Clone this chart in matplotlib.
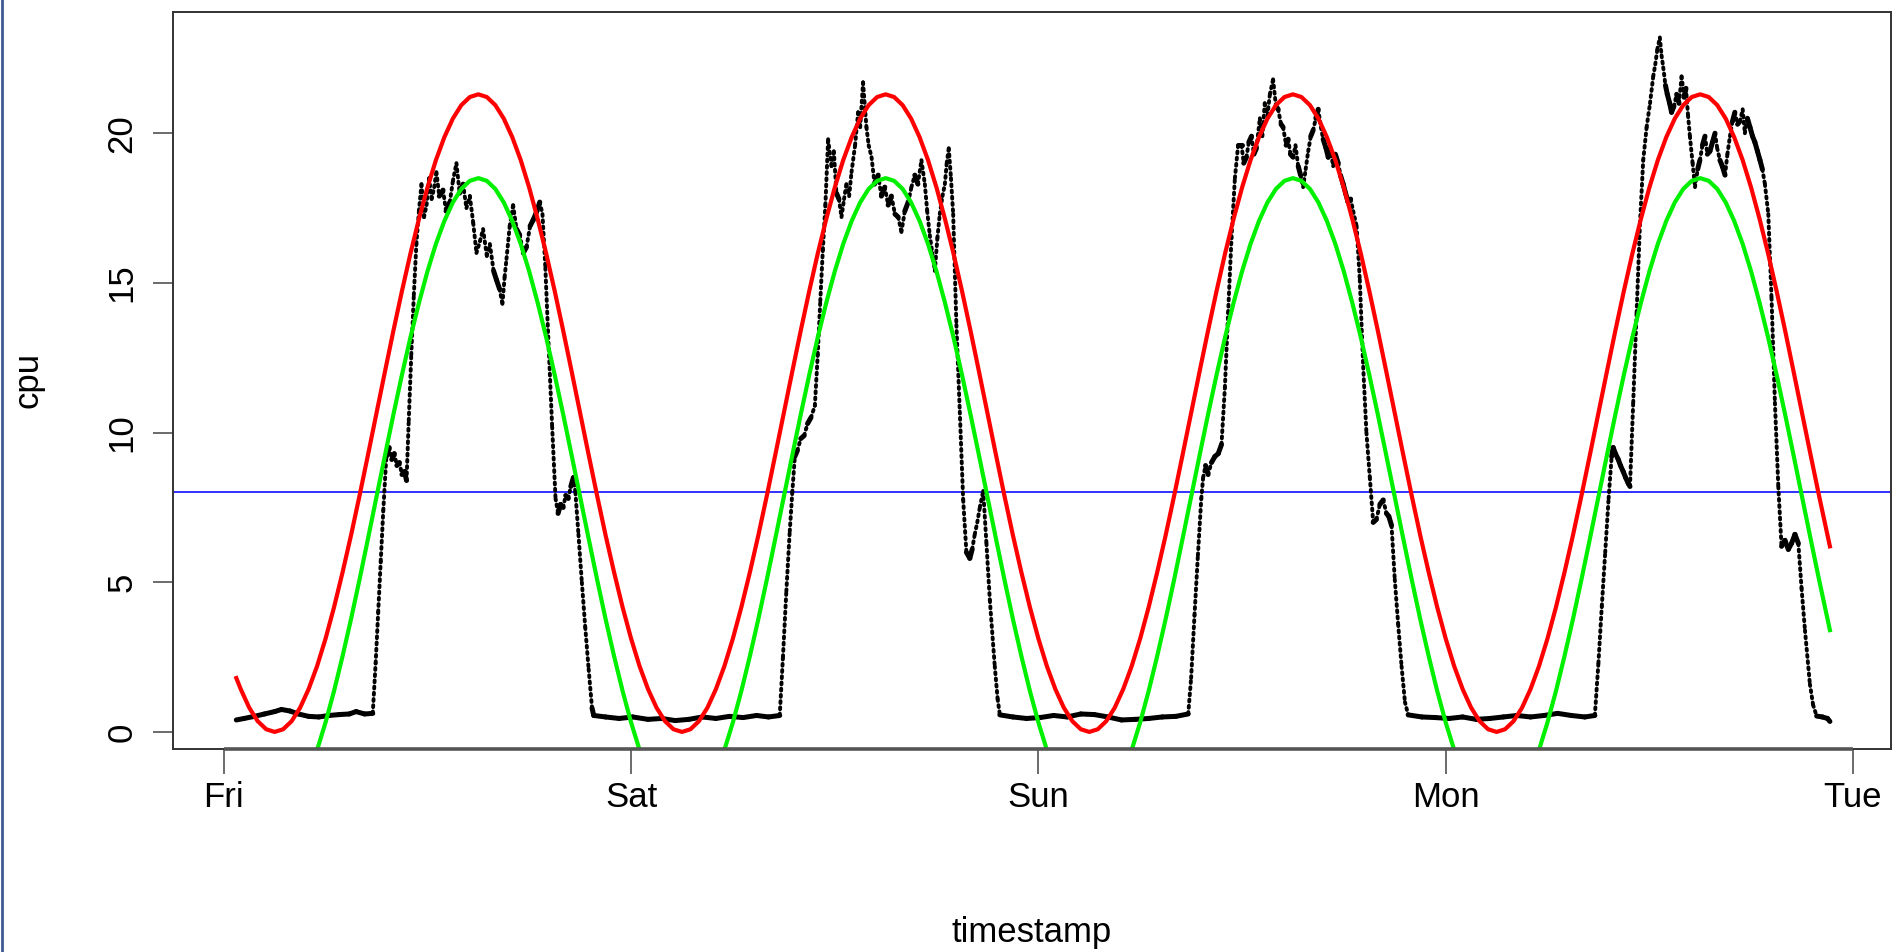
import matplotlib
matplotlib.use("Agg")
from matplotlib import pyplot as plt
from matplotlib import font_manager
from matplotlib.lines import Line2D
from matplotlib.collections import LineCollection
import numpy as np

# day names at the x ticks (hours from Fri 00:00)
day_ticks = [0, 24, 48, 72, 96]
day_labels = ["Fri", "Sat", "Sun", "Mon", "Tue"]
cpu_ticks = [0, 5, 10, 15, 20]
threshold = 8.0

# fitted daily curves, one value per half hour of the day (0:00 .. 23:30)
red_day = [3.12, 2.20, 1.43, 0.81, 0.36, 0.09, 0.00, 0.09, 0.36, 0.81, 1.43, 2.20,
           3.12, 4.17, 5.33, 6.57, 7.89, 9.26, 10.65, 12.04, 13.41, 14.73, 15.98, 17.13,
           18.18, 19.10, 19.87, 20.49, 20.94, 21.21, 21.30, 21.21, 20.94, 20.49, 19.87, 19.10,
           18.18, 17.13, 15.98, 14.73, 13.41, 12.04, 10.65, 9.26, 7.89, 6.57, 5.33, 4.17]
green_day = [0.32, -0.60, -1.37, -1.99, -2.44, -2.71, -2.80, -2.71, -2.44, -1.99, -1.37, -0.60,
             0.32, 1.37, 2.53, 3.77, 5.09, 6.46, 7.85, 9.24, 10.61, 11.93, 13.18, 14.33,
             15.38, 16.30, 17.07, 17.69, 18.14, 18.41, 18.50, 18.41, 18.14, 17.69, 17.07, 16.30,
             15.38, 14.33, 13.18, 11.93, 10.61, 9.24, 7.85, 6.46, 5.09, 3.77, 2.53, 1.37]
fit_start, fit_end = 0.74, 94.64
red_ends = (1.8, 6.2)
green_ends = (-0.97, 3.4)

# cpu readings (hour, value)
cpu_points = [
    (0.74, 0.40), (1.2, 0.45), (1.8, 0.52), (2.4, 0.60), (3.0, 0.68), (3.4, 0.75), (3.9, 0.70),
    (4.4, 0.60), (5.0, 0.52), (5.6, 0.50), (6.2, 0.55), (6.8, 0.58), (7.4, 0.60), (7.8, 0.68),
    (8.3, 0.60), (8.78, 0.62),
    (8.95, 2.3), (9.1, 4.0), (9.25, 5.7), (9.4, 7.4), (9.58, 9.2),
    (9.75, 9.5), (9.9, 9.1), (10.05, 9.3), (10.2, 8.9), (10.35, 9.0), (10.5, 8.6), (10.65, 8.7),
    (10.77, 8.4),
    (10.9, 10.4), (11.05, 12.6), (11.2, 14.6), (11.35, 16.3), (11.5, 17.4),
    (11.65, 18.3), (11.8, 17.2), (11.95, 17.6), (12.1, 18.5), (12.25, 17.8), (12.4, 18.2),
    (12.53, 18.7), (12.7, 17.9), (12.92, 18.1), (13.1, 17.4), (13.32, 17.7), (13.5, 18.4),
    (13.71, 19.0), (13.9, 18.0), (14.1, 18.3), (14.3, 17.5), (14.5, 17.9), (14.7, 17.0),
    (14.89, 16.0), (15.1, 16.4), (15.28, 16.8), (15.5, 15.9), (15.68, 16.3), (15.9, 15.4),
    (16.07, 15.1), (16.25, 14.8), (16.42, 14.3), (16.55, 15.2), (16.66, 15.8), (16.85, 16.9),
    (17.05, 17.6), (17.25, 16.8), (17.44, 16.6), (17.65, 16.0), (17.84, 16.2), (18.05, 16.9),
    (18.23, 17.1), (18.45, 17.4), (18.62, 17.7), (18.78, 17.3),
    (18.95, 15.5), (19.15, 12.8), (19.35, 10.2), (19.55, 7.8),
    (19.7, 7.3), (19.85, 7.6), (20.0, 7.5), (20.15, 7.9), (20.3, 7.8), (20.45, 8.2), (20.6, 8.5),
    (20.72, 8.0),
    (20.9, 6.6), (21.1, 5.0), (21.3, 3.5), (21.5, 2.1), (21.7, 0.8), (21.8, 0.55),
    (22.5, 0.50), (23.3, 0.45), (24.1, 0.50), (25.0, 0.42), (25.8, 0.45), (26.6, 0.38),
    (27.4, 0.42), (28.2, 0.50), (29.0, 0.45), (29.8, 0.52), (30.6, 0.48), (31.4, 0.55),
    (32.1, 0.50), (32.76, 0.55),
    (32.95, 2.5), (33.15, 4.7), (33.35, 6.7), (33.5, 8.0), (33.65, 9.2),
    (33.8, 9.4), (34.0, 9.8), (34.2, 9.9), (34.4, 10.3), (34.6, 10.5), (34.83, 10.9),
    (35.0, 12.6), (35.15, 14.4), (35.3, 16.1), (35.45, 17.6),
    (35.61, 19.8), (35.81, 18.9), (35.95, 19.4), (36.1, 18.0), (36.25, 17.8), (36.4, 17.2),
    (36.55, 17.8), (36.69, 18.3), (36.85, 17.9), (36.99, 18.7), (37.2, 19.6), (37.38, 20.7),
    (37.5, 20.2), (37.67, 21.7), (37.87, 20.2), (38.0, 19.6), (38.17, 19.2), (38.35, 18.3),
    (38.56, 18.6), (38.75, 17.9), (38.95, 18.2), (39.15, 17.6), (39.34, 17.9), (39.55, 17.3),
    (39.74, 17.2), (39.93, 16.7), (40.13, 17.4), (40.33, 17.7), (40.52, 18.2), (40.72, 18.6),
    (40.9, 18.3), (41.11, 19.1), (41.31, 18.3), (41.45, 17.4), (41.6, 16.6), (41.75, 16.0),
    (41.9, 15.4), (42.05, 16.5), (42.19, 17.3), (42.35, 17.9), (42.49, 18.3), (42.6, 19.0),
    (42.72, 19.5), (42.85, 18.5), (42.98, 17.3),
    (43.17, 13.6), (43.37, 10.7), (43.57, 7.75), (43.76, 6.0),
    (43.96, 5.8), (44.1, 6.1), (44.25, 6.6), (44.4, 7.0), (44.55, 7.5), (44.75, 8.05),
    (44.94, 6.3), (45.14, 4.4), (45.43, 2.2), (45.6, 1.1), (45.73, 0.57),
    (46.5, 0.50), (47.3, 0.45), (48.1, 0.48), (48.9, 0.55), (49.7, 0.50), (50.5, 0.60),
    (51.3, 0.58), (52.1, 0.50), (52.9, 0.40), (53.7, 0.42), (54.5, 0.45), (55.3, 0.50),
    (56.1, 0.52), (56.83, 0.60),
    (57.0, 1.8), (57.2, 3.9), (57.4, 5.9), (57.6, 7.8), (57.71, 8.5),
    (57.85, 8.9), (58.0, 8.6), (58.2, 9.0), (58.4, 9.2), (58.6, 9.3), (58.79, 9.6),
    (58.99, 11.5), (59.18, 14.0), (59.38, 16.5), (59.58, 18.5), (59.77, 19.6),
    (59.97, 19.6), (60.1, 19.0), (60.26, 19.2), (60.4, 19.7), (60.56, 19.9), (60.7, 19.3),
    (60.85, 19.5), (61.05, 20.5), (61.2, 19.9), (61.34, 21.0), (61.5, 20.6), (61.64, 21.3),
    (61.83, 21.8), (62.0, 20.9), (62.13, 20.8), (62.3, 20.3), (62.42, 20.2), (62.6, 19.6),
    (62.72, 19.8), (62.85, 19.3), (63.01, 19.2), (63.15, 19.6), (63.31, 18.9), (63.45, 18.6),
    (63.6, 18.2), (63.75, 18.8), (63.9, 19.4), (64.05, 19.9), (64.19, 20.1), (64.35, 20.5),
    (64.49, 20.8), (64.65, 20.2), (64.78, 19.8), (64.95, 19.5), (65.08, 19.2), (65.2, 19.5),
    (65.37, 18.9), (65.5, 19.3), (65.67, 19.0), (65.8, 18.6), (65.96, 18.3), (66.1, 18.0),
    (66.25, 17.7), (66.4, 17.8), (66.55, 17.4), (66.75, 16.9),
    (66.94, 15.1), (67.14, 12.2), (67.33, 10.0), (67.53, 8.5), (67.73, 7.0),
    (67.92, 7.1), (68.12, 7.6), (68.32, 7.75), (68.51, 7.3), (68.65, 7.2), (68.81, 6.9),
    (69.0, 5.1), (69.2, 3.6), (69.4, 2.2), (69.6, 1.0), (69.79, 0.57),
    (70.6, 0.50), (71.4, 0.48), (72.2, 0.45), (73.0, 0.50), (73.8, 0.42), (74.6, 0.45),
    (75.4, 0.50), (76.2, 0.55), (77.0, 0.50), (77.8, 0.55), (78.6, 0.62), (79.4, 0.55),
    (80.2, 0.50), (80.79, 0.55),
    (81.0, 2.3), (81.2, 4.2), (81.4, 6.0), (81.6, 7.8), (81.78, 9.2),
    (81.87, 9.5), (82.0, 9.3), (82.17, 9.1), (82.3, 8.9), (82.46, 8.7), (82.6, 8.5),
    (82.76, 8.3), (82.86, 8.2),
    (83.05, 11.0), (83.25, 14.0), (83.45, 17.0), (83.64, 19.1),
    (83.84, 20.2), (84.04, 21.0), (84.23, 21.9), (84.35, 22.3), (84.47, 22.8), (84.62, 23.2),
    (84.72, 22.6), (84.82, 22.2), (84.95, 21.6), (85.06, 21.3), (85.2, 21.0), (85.31, 20.7),
    (85.45, 20.9), (85.61, 21.3), (85.75, 21.0), (85.9, 21.9), (86.05, 21.2), (86.16, 21.5),
    (86.28, 20.6), (86.39, 19.9), (86.55, 19.0), (86.69, 18.2), (86.85, 18.8), (86.98, 19.1),
    (87.13, 19.6), (87.28, 19.9), (87.42, 19.3), (87.57, 19.4), (87.72, 19.7), (87.87, 20.0),
    (88.0, 19.5), (88.16, 19.1), (88.3, 18.9), (88.46, 18.6), (88.6, 19.3), (88.75, 19.9),
    (88.9, 20.4), (89.04, 20.7), (89.2, 20.3), (89.34, 20.4), (89.5, 20.8), (89.63, 20.0),
    (89.78, 20.5), (89.93, 20.2), (90.08, 19.9), (90.22, 19.7), (90.37, 19.4), (90.52, 19.1),
    (90.66, 18.8), (90.81, 18.3), (91.01, 17.3),
    (91.2, 14.5), (91.4, 11.0), (91.6, 8.2), (91.79, 6.2),
    (91.99, 6.4), (92.19, 6.1), (92.38, 6.3), (92.58, 6.6), (92.78, 6.3),
    (92.97, 4.8), (93.17, 3.4), (93.46, 1.6), (93.65, 0.9), (93.86, 0.53),
    (94.2, 0.50), (94.5, 0.45), (94.64, 0.35),
]

font_names = {f.name for f in font_manager.fontManager.ttflist}
if "Liberation Sans Narrow" in font_names:
    family, fsize = "Liberation Sans Narrow", 30
else:
    family, fsize = "Liberation Sans", 25
plt.rcParams["font.family"] = [family, "DejaVu Sans"]

W, H = 1892, 952
fig = plt.figure(figsize=(W / 100, H / 100), dpi=100)
ax = fig.add_axes([172.5 / W, 1 - 749 / H, (1891 - 172.5) / W, (749 - 12) / H])
ax.set_xlim(-3.02, 98.24)
ax.set_ylim(-0.57, 24.05)

# fitted curves
fit_hours = [fit_start] + [h / 2 for h in range(2, 190)] + [fit_end]
red_vals = [red_ends[0]] + list(np.tile(red_day, 4)[2:190]) + [red_ends[1]]
green_vals = [green_ends[0]] + list(np.tile(green_day, 4)[2:190]) + [green_ends[1]]

hours = np.array([p[0] for p in cpu_points])
cpu = np.array([p[1] for p in cpu_points])

# the raw readings look like a thick band where flat, and like dots elsewhere
pts = np.column_stack([hours, cpu])
segs = np.stack([pts[:-1], pts[1:]], axis=1)
px_y = 737 / (24.05 + 0.57)
flat = np.abs(np.diff(cpu)) * px_y < 10
styles = ["solid" if f else (0, (0.5, 1.1)) for f in flat]
widths = [3.6 if f else 2.8 for f in flat]

ax.axhline(threshold, color="#2020ff", lw=1.3, zorder=1)
ax.add_collection(LineCollection(segs, colors="black", linestyles=styles,
                                 linewidths=widths, capstyle="round", zorder=2))
ax.plot(fit_hours, red_vals, color="#ff0000", lw=3.0, zorder=3)
ax.plot(fit_hours, green_vals, color="#00f000", lw=3.0, zorder=3)

for s in ax.spines.values():
    s.set_linewidth(1.4)
    s.set_color("#333333")

ax.set_xticks(day_ticks)
ax.set_xticklabels(day_labels)
ax.set_yticks(cpu_ticks)
ax.set_yticklabels([str(v) for v in cpu_ticks], rotation=90, va="center")
ax.tick_params(axis="x", length=18, width=1.1, pad=5, color="#444444", labelsize=fsize)
ax.tick_params(axis="y", length=14.4, width=1.1, pad=10, color="#444444", labelsize=fsize)

# R style axis line from first to last tick
ax.plot([day_ticks[0], day_ticks[-1]], [-0.57, -0.57], color="#555555", lw=2.6,
        clip_on=False, solid_capstyle="butt", zorder=4)

fig.text(1032 / W, 1 - 942 / H, "timestamp", ha="center", va="baseline", fontsize=fsize)
fig.text(37 / W, 1 - 380 / H, "cpu", rotation=90, rotation_mode="anchor",
         ha="center", va="baseline", fontsize=fsize)

fig.add_artist(Line2D([0.0008, 0.0008], [0, 1], transform=fig.transFigure,
                      color="#3b5b92", lw=2))

fig.savefig("out.png", dpi=100)
